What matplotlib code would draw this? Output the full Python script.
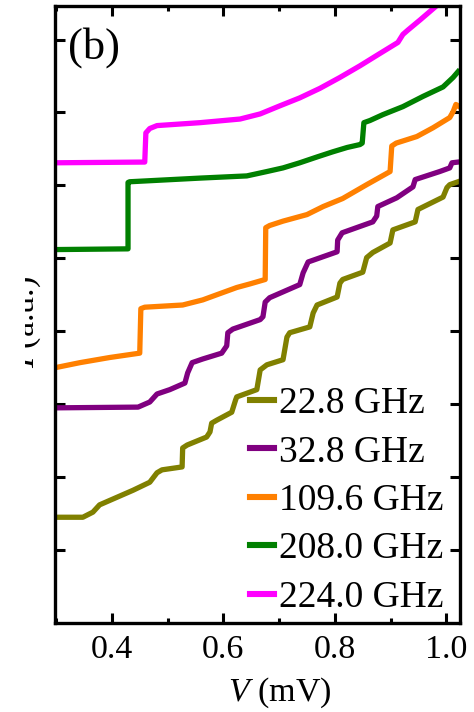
# I-V curves under microwave irradiation, offset for clarity

import numpy as np
import matplotlib
matplotlib.use("Agg")
import matplotlib.pyplot as plt
from matplotlib.transforms import Bbox, TransformedBbox
from matplotlib.ticker import MultipleLocator

plt.rcParams['font.family'] = ['Liberation Serif', 'DejaVu Serif']
plt.rcParams['mathtext.fontset'] = 'custom'
plt.rcParams['mathtext.rm'] = 'Liberation Serif'
plt.rcParams['mathtext.it'] = 'Liberation Serif:italic'

# 22.8 GHz
v_228 = [0.298, 0.348, 0.366, 0.378, 0.402, 0.438, 0.468, 0.481, 0.490, 0.526,
         0.527, 0.535, 0.570, 0.576, 0.579, 0.588, 0.615, 0.622, 0.624, 0.660,
         0.666, 0.678, 0.707, 0.714, 0.719, 0.755, 0.761, 0.768, 0.804, 0.809,
         0.814, 0.850, 0.857, 0.868, 0.899, 0.904, 0.944, 0.949, 0.994, 1.001,
         1.006, 1.021]
i_228 = [1.45, 1.45, 1.52, 1.62, 1.70, 1.82, 1.93, 2.06, 2.10, 2.14,
         2.40, 2.44, 2.55, 2.62, 2.74, 2.78, 2.89, 3.06, 3.10, 3.20,
         3.47, 3.54, 3.61, 3.92, 3.98, 4.06, 4.25, 4.36, 4.47, 4.66,
         4.71, 4.81, 5.01, 5.08, 5.21, 5.39, 5.50, 5.67, 5.84, 5.97,
         6.01, 6.05]

# 32.8 GHz
v_328 = [0.298, 0.447, 0.468, 0.481, 0.504, 0.531, 0.536, 0.544, 0.563, 0.597,
         0.606, 0.608, 0.617, 0.666, 0.671, 0.675, 0.683, 0.737, 0.743, 0.752,
         0.804, 0.805, 0.813, 0.868, 0.875, 0.877, 0.911, 0.940, 0.944, 0.988,
         1.006, 1.010, 1.021]
i_328 = [2.95, 2.96, 3.03, 3.14, 3.20, 3.29, 3.43, 3.57, 3.62, 3.70,
         3.80, 3.98, 4.03, 4.16, 4.20, 4.40, 4.46, 4.64, 4.80, 4.95,
         5.09, 5.25, 5.35, 5.50, 5.58, 5.71, 5.83, 5.98, 6.08, 6.19,
         6.24, 6.31, 6.32]

# 109.6 GHz
v_1096 = [0.298, 0.343, 0.396, 0.450, 0.452, 0.459, 0.527, 0.563, 0.588, 0.624,
          0.648, 0.675, 0.676, 0.683, 0.707, 0.750, 0.779, 0.814, 0.857, 0.899,
          0.902, 0.910, 0.947, 0.976, 1.006, 1.012, 1.017, 1.021]
i_1096 = [3.50, 3.57, 3.64, 3.70, 4.31, 4.33, 4.36, 4.43, 4.50, 4.60,
          4.65, 4.71, 5.42, 5.45, 5.51, 5.60, 5.71, 5.82, 6.01, 6.19,
          6.54, 6.58, 6.67, 6.79, 6.93, 7.01, 7.11, 7.09]

# 208.0 GHz
v_2080 = [0.298, 0.429, 0.429, 0.432, 0.558, 0.642, 0.678, 0.707, 0.737, 0.768,
          0.796, 0.822, 0.845, 0.849, 0.852, 0.863, 0.886, 0.922, 0.958, 0.994,
          1.012, 1.021]
i_2080 = [5.12, 5.13, 6.04, 6.05, 6.10, 6.13, 6.19, 6.24, 6.31, 6.39,
          6.46, 6.52, 6.56, 6.58, 6.86, 6.89, 6.97, 7.08, 7.22, 7.35,
          7.48, 7.56]

# 224.0 GHz
v_2240 = [0.298, 0.459, 0.461, 0.468, 0.481, 0.558, 0.630, 0.666, 0.701, 0.737,
          0.773, 0.809, 0.845, 0.881, 0.913, 0.922, 0.931, 0.953, 0.985, 0.997]
i_2240 = [6.31, 6.32, 6.72, 6.78, 6.82, 6.86, 6.91, 6.98, 7.09, 7.20,
          7.33, 7.48, 7.64, 7.81, 7.96, 8.07, 8.13, 8.27, 8.48, 8.55]

labels = ['22.8 GHz', '32.8 GHz', '109.6 GHz', '208.0 GHz', '224.0 GHz']
colors = ['#808000', '#800080', '#FF8000', '#008000', '#FF00FF']

fig = plt.figure(figsize=(4.74, 7.12), dpi=100)
ax = fig.add_axes([0.116, 0.125, 0.854, 0.8666])

series = [(v_228, i_228), (v_328, i_328), (v_1096, i_1096),
          (v_2080, i_2080), (v_2240, i_2240)]
for (v, i), lab, c in zip(series, labels, colors):
    ax.plot(v, i, color=c, lw=3.8, label=lab, solid_joinstyle='round')

ax.set_xlim(0.298, 1.024)
ax.set_ylim(0, 8.46)
ax.xaxis.set_minor_locator(MultipleLocator(0.1))
ax.set_xticks([0.4, 0.6, 0.8, 1.0])
ax.set_xticklabels(['0.4', '0.6', '0.8', '1.0'])
ax.set_yticks(np.arange(1, 9))
ax.set_yticklabels([])
ax.tick_params(which='both', direction='in', top=True, right=True, width=2.2,
               labelsize=24.5, pad=8)
ax.tick_params(which='major', length=7)
ax.tick_params(which='minor', length=3.6)
for s in ax.spines.values():
    s.set_linewidth(2.4)

ax.set_xlabel(r'$V$ (mV)', fontsize=24.5)
ax.xaxis.set_label_coords(0.556, -0.085)
ylab = ax.set_ylabel(r'$I$ (a.u.)', fontsize=24.5)
ax.yaxis.set_label_coords(-0.03, 0.488)
ylab.set_clip_box(TransformedBbox(Bbox([[25 / 474, 0], [1, 1]]), fig.transFigure))
ylab.set_clip_on(True)

ax.text(0.032, 0.966, '(b)', transform=ax.transAxes, fontsize=32,
        ha='left', va='top')

leg = ax.legend(loc='upper left', bbox_to_anchor=(0.481, 0.383), frameon=False,
                fontsize=27, handlelength=0.66, handletextpad=0.13,
                labelspacing=0.37, borderpad=0, borderaxespad=0)
for h in leg.get_lines():
    h.set_linewidth(4.4)

fig.savefig('out.png', dpi=100)
